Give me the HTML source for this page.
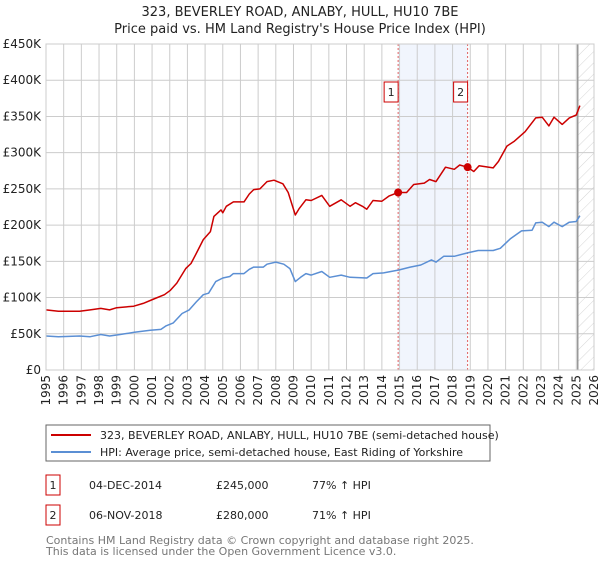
<!DOCTYPE html>
<html><head><meta charset="utf-8">
<style>
body{margin:0;background:#fff;width:600px;height:560px;overflow:hidden;font-family:"DejaVu Sans","Liberation Sans",sans-serif;}
svg text{font-family:"DejaVu Sans","Liberation Sans",sans-serif;}
</style></head>
<body>
<svg id="chart" width="600" height="560">
<defs>
<pattern id="hatch" width="8" height="8" patternUnits="userSpaceOnUse" patternTransform="rotate(45)">
<line x1="0" y1="0" x2="0" y2="8" stroke="#ccc" stroke-width="0.8"/>
</pattern>
</defs>
<text x="300" y="16" text-anchor="middle" font-size="13" fill="#222">323, BEVERLEY ROAD, ANLABY, HULL, HU10 7BE</text>
<text x="300" y="33" text-anchor="middle" font-size="13" fill="#222">Price paid vs. HM Land Registry's House Price Index (HPI)</text>
<g id="plot"></g>
<rect x="46" y="425" width="444" height="36" fill="#fff" stroke="#666"/>
<line x1="51" y1="435" x2="91" y2="435" stroke="#cc0000" stroke-width="2"/>
<text x="100" y="439" font-size="11" fill="#222">323, BEVERLEY ROAD, ANLABY, HULL, HU10 7BE (semi-detached house)</text>
<line x1="51" y1="452" x2="91" y2="452" stroke="#5b8fd4" stroke-width="2"/>
<text x="100" y="456" font-size="11" fill="#222">HPI: Average price, semi-detached house, East Riding of Yorkshire</text>
<g>
<rect x="46" y="475" width="14" height="20" fill="#fff" stroke="#cc0000"/>
<text x="53" y="489" text-anchor="middle" font-size="11" fill="#222">1</text>
<text x="89" y="489" font-size="11" fill="#222">04-DEC-2014</text>
<text x="216" y="489" font-size="11" fill="#222">£245,000</text>
<text x="312" y="489" font-size="11" fill="#222">77% ↑ HPI</text>
</g>
<g>
<rect x="46" y="505" width="14" height="20" fill="#fff" stroke="#cc0000"/>
<text x="53" y="519" text-anchor="middle" font-size="11" fill="#222">2</text>
<text x="89" y="519" font-size="11" fill="#222">06-NOV-2018</text>
<text x="216" y="519" font-size="11" fill="#222">£280,000</text>
<text x="312" y="519" font-size="11" fill="#222">71% ↑ HPI</text>
</g>
<text x="46" y="544" font-size="11" fill="#777">Contains HM Land Registry data © Crown copyright and database right 2025.</text>
<text x="46" y="555" font-size="11" fill="#777">This data is licensed under the Open Government Licence v3.0.</text>
</svg>
<script>
const yTicks=[0,50,100,150,200,250,300,350,400,450];
const yTickLabels=["£0","£50K","£100K","£150K","£200K","£250K","£300K","£350K","£400K","£450K"];
const xYears=[1995,1996,1997,1998,1999,2000,2001,2002,2003,2004,2005,2006,2007,2008,2009,2010,2011,2012,2013,2014,2015,2016,2017,2018,2019,2020,2021,2022,2023,2024,2025,2026];
const redT=[1995,1995.7,1996.9,1997.5,1998.1,1998.6,1999,1999.96,2000.5,2001.1,2001.7,2002.04,2002.4,2002.9,2003.2,2003.5,2003.9,2004.3,2004.5,2004.9,2005,2005.2,2005.6,2006.2,2006.5,2006.75,2007.1,2007.5,2007.9,2008.4,2008.7,2009.1,2009.33,2009.7,2010,2010.6,2011.05,2011.7,2012.2,2012.5,2012.9,2013.15,2013.5,2014,2014.4,2014.92,2015.4,2015.8,2016.4,2016.7,2017.06,2017.6,2018.1,2018.4,2018.85,2019.2,2019.5,2020.3,2020.6,2021.07,2021.5,2022.1,2022.7,2023.07,2023.45,2023.74,2024.2,2024.6,2025,2025.2];
const redV=[83,81,81,83,85,83,86,88,92,98,104,110,120,140,147,161,180,191,212,221,217,226,232,232,243,249,250,260,262,257,245,214,223,235,234,241,226,235,226,231,226,222,234,233,240,245,245,256,258,263,260,280,277,283,280,274,282,279,288,309,316,329,348,349,337,349,339,348,352,365];
const blueT=[1995,1995.7,1996.9,1997.5,1998.1,1998.6,1999.2,2000,2000.9,2001.5,2001.8,2002.2,2002.7,2003.1,2003.5,2003.9,2004.2,2004.6,2005,2005.4,2005.6,2006.2,2006.5,2006.75,2007.3,2007.5,2008,2008.45,2008.8,2009.1,2009.4,2009.7,2010,2010.6,2011.05,2011.7,2012.2,2013.15,2013.5,2014.1,2014.96,2015.6,2016.2,2016.8,2017.06,2017.5,2018.1,2018.9,2019.45,2020.3,2020.7,2021.26,2021.9,2022.5,2022.7,2023.07,2023.45,2023.74,2024.2,2024.6,2025,2025.2];
const blueV=[47,46,47,46,49,47,49,52,55,56,61,65,78,83,94,104,106,122,127,129,133,133,139,142,142,146,149,146,140,122,128,133,131,136,128,131,128,127,133,134,138,142,145,152,149,157,157,162,165,165,168,181,192,193,203,204,198,204,198,204,205,213];
const saleT=[2014.92,2018.85];
const saleV=[245,280];
const saleLabels=["1","2"];
const dataEnd=2025.08;

const L=46,R=594,T=44,B=370;
const x=t=>L+(t-1995)/(2026-1995)*(R-L);
const y=v=>B-v/450*(B-T);
const g=document.getElementById('plot');
const NS='http://www.w3.org/2000/svg';
function mk(tag,attrs,parent){const e=document.createElementNS(NS,tag);for(const k in attrs)e.setAttribute(k,attrs[k]);(parent||g).appendChild(e);return e;}

let e=mk('rect',{x:x(saleT[0]),y:T,width:x(saleT[1])-x(saleT[0]),height:B-T,fill:'#eef3fc',opacity:0.8});


e=mk('rect',{x:x(dataEnd),y:T,width:R-x(dataEnd),height:B-T,fill:'url(#hatch)'});


xYears.forEach(yr=>{
  e=mk('line',{x1:x(yr),x2:x(yr),y1:T,y2:B,stroke:'#cccccc','stroke-width':1});
  
  
  e=mk('text',{x:0,y:0,'font-size':12,fill:'#222','text-anchor':'end',transform:`translate(${x(yr)+4},375) rotate(-90)`});
  e.textContent=yr;
  
  
});
yTicks.forEach((v,i)=>{
  e=mk('line',{x1:L,x2:R,y1:y(v),y2:y(v),stroke:'#cccccc','stroke-width':1});
  
  
  e=mk('text',{x:41,y:y(v)+4,'font-size':12,fill:'#222','text-anchor':'end'});
  e.textContent=yTickLabels[i];
  
  
});
e=mk('line',{x1:x(dataEnd),x2:x(dataEnd),y1:T,y2:B,stroke:'#999','stroke-width':1.5});


saleT.forEach((t,i)=>{
  e=mk('line',{x1:x(t),x2:x(t),y1:T,y2:B,stroke:'#e06060','stroke-width':1,'stroke-dasharray':'2,2'});
  
  
  e=mk('rect',{x:x(t)-14,y:82,width:14,height:20,fill:'#fff',stroke:'#cc0000'});
  
  
  e=mk('text',{x:x(t)-7,y:96,'font-size':11,fill:'#222','text-anchor':'middle'});
  e.textContent=saleLabels[i];
  
  
});
function line(ts,vs,color,name){
  const d=ts.map((t,i)=>(i?'L':'M')+x(t).toFixed(1)+','+y(vs[i]).toFixed(1)).join('');
  const p=mk('path',{d:d,fill:'none',stroke:color,'stroke-width':1.5,'stroke-linejoin':'round'});
  
  
}
line(blueT,blueV,'#5b8fd4','hpi-line');
line(redT,redV,'#cc0000','property-line');
saleT.forEach((t,i)=>{
  e=mk('circle',{cx:x(t),cy:y(saleV[i]),r:4,fill:'#cc0000'});
  
  
});
e=mk('rect',{x:L,y:T,width:R-L,height:B-T,fill:'none',stroke:'#cccccc'});


</script>
</body></html>
